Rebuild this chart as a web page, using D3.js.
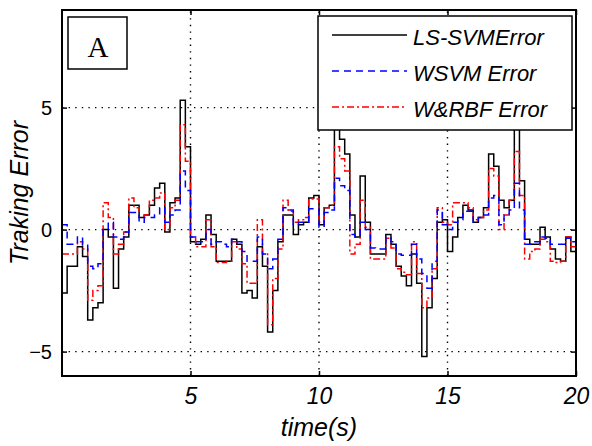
<!DOCTYPE html>
<html>
<head>
<meta charset="utf-8">
<script src="https://cdn.jsdelivr.net/npm/d3@7"></script>
<style>
  html, body { margin: 0; padding: 0; background: #fff; }
  #svg-container { width: 592px; height: 446px; }
  text { fill: #000; }
</style>
</head>
<body>
<div id="svg-container"></div>
<script>
////////////////////////////////////////////////////////////////////
////////////////////////////  Data  ////////////////////////////////
// sample times (s), one every 0.2 s
const time = d3.range(0, 101).map((i) => i / 5);

const lsSvmError = [
  -2.6, -1.5, -1.5, -0.7, -1.1, -3.7, -3.2, -3.0, 0.0, -0.3,
  -2.4, -0.8, -0.3, 1.0, 1.0, 0.5, 0.6, 1.0, 1.7, 1.9,
  -0.1, 1.1, 1.3, 5.3, 3.4, -0.5, -0.6, -0.4, 0.6, -0.2,
  -1.3, -1.3, -1.3, -0.4, -0.6, -2.6, -2.5, -2.8, -0.7, -1.5,
  -4.2, -2.5, -0.5, 0.6, 0.6, -0.2, 0.2, 0.3, 1.3, 1.4,
  0.2, 0.9, 1.0, 4.6, 3.7, 3.1, 0.6, -0.3, 2.2, 0.3,
  -1.0, -1.0, -1.0, -0.2, -0.6, -1.5, -1.9, -2.3, -1.0, -2.2,
  -5.2, -3.2, -2.0, 0.3, 0.4, -0.9, -0.3, 0.5, 1.0, 0.8,
  0.3, 0.5, 0.9, 3.1, 2.6, 1.2, 0.9, 1.2, 4.4, 2.0,
  -0.4, -0.6, -0.6, 0.1, -0.3, -0.8, -1.2, -1.3, -0.3, -0.9,
  -1.3,
];

const wsvmError = [
  0.2, -0.6, -0.6, -0.3, -0.6, -1.5, -1.6, -1.4, 0.0, 0.3,
  -0.3, -0.4, -0.1, 0.7, 0.7, 0.3, 0.5, 0.5, 0.6, 0.9,
  0.3, 0.6, 0.8, 2.4, 1.6, -0.3, -0.5, -0.5, 0.0, -0.6,
  -0.5, -0.6, -0.7, -0.4, -0.5, -0.9, -1.3, -1.3, -0.3, -1.0,
  -1.6, -1.2, -0.4, 0.9, 0.8, 0.2, 0.3, 0.3, 0.85, 0.85,
  0.1, 0.7, 0.8, 2.1, 1.8, 1.6, -0.2, -0.3, 0.3, 0.0,
  -0.75, -0.8, -0.8, -0.3, -0.5, -1.0, -1.05, -1.05, -0.6, -1.2,
  -1.8, -2.4, -1.3, 0.8, 0.2, 0.0, 0.3, 0.4, 0.75, 0.75,
  0.3, 0.5, 0.6, 1.3, 1.4, 0.2, 0.6, 0.8, 1.9, 0.8,
  -0.6, -0.6, -0.5, -0.3, -0.35, -0.6, -0.6, -0.6, -0.35, -0.5,
  -0.6,
];

const wRbfError = [
  -1.0, -1.0, -1.0, -0.5, -0.8, -2.9, -2.5, -2.3, 1.1, 0.5,
  -1.0, -0.6, -0.1, 1.3, 0.9, 0.55, 0.6, 1.2, 1.3, 1.5,
  0.0, 0.9, 1.2, 4.3, 2.8, -0.3, -0.7, -0.7, 0.4, -0.7,
  -1.35, -1.35, -1.3, -0.5, -0.8, -1.4, -2.2, -2.2, 0.4, -1.0,
  -3.9, -2.0, -0.8, 1.2, 0.75, 0.3, 0.4, 0.5, 1.25, 1.25,
  0.3, 0.9, 1.0, 3.4, 2.9, 2.4, -1.0, -0.6, 1.2, 0.1,
  -1.2, -1.2, -1.2, -0.35, -0.75, -1.6, -1.75, -1.85, -0.5, -1.8,
  -3.2, -2.8, -1.6, 0.9, 0.3, 0.2, 1.1, 1.1, 1.1, 0.9,
  0.4, 0.5, 0.8, 2.5, 2.2, 0.0, 0.6, 1.2, 3.2, 1.4,
  -1.2, -0.9, -0.8, -0.4, -0.5, -1.3, -1.35, -1.3, -0.3, -0.7,
  -0.9,
];

const xTicks = [5, 10, 15, 20];
const yTicks = [-5, 0, 5];

const seriesNames = ["LS-SVMError", "WSVM Error", "W&RBF Error"];
const seriesColors = ["#000000", "#0000ff", "#ff0000"];
const seriesDash = ["none", "7,5", "7,3,2,3"];

const sans = "'Liberation Sans', Arial, sans-serif";
const serif = "'Liberation Serif', 'Times New Roman', serif";

////////////////////////////////////////////////////////////////////
////////////////////////////  Init  ///////////////////////////////
const svg = d3
  .select("#svg-container")
  .append("svg")
  .attr("width", 592)
  .attr("height", 446);

const margin = { top: 10, right: 16, bottom: 70, left: 62 };
const width = 592;
const height = 446;

const xScale = d3
  .scaleLinear()
  .domain([0, 20])
  .range([margin.left, width - margin.right]);

const yScale = d3
  .scaleLinear()
  .domain([-6, 9])
  .range([height - margin.bottom, margin.top]);

const x0 = margin.left;
const x1 = width - margin.right;
const y0 = height - margin.bottom;
const y1 = margin.top;

svg
  .append("clipPath")
  .attr("id", "plot-clip")
  .append("rect")
  .attr("x", x0)
  .attr("y", y1)
  .attr("width", x1 - x0)
  .attr("height", y0 - y1);

////////////////////////////////////////////////////////////////////
////////////////////////////  Grid  ////////////////////////////////
const grid = svg.append("g").attr("stroke", "#000").attr("stroke-width", 1.4)
  .attr("stroke-dasharray", "1.4,5.2");

grid
  .selectAll(".vgrid")
  .data(xTicks.filter((d) => d < 20))
  .enter()
  .append("line")
  .attr("x1", (d) => xScale(d))
  .attr("x2", (d) => xScale(d))
  .attr("y1", y0)
  .attr("y2", y1);

grid
  .selectAll(".hgrid")
  .data(yTicks)
  .enter()
  .append("line")
  .attr("x1", x0)
  .attr("x2", x1)
  .attr("y1", (d) => yScale(d))
  .attr("y2", (d) => yScale(d));

////////////////////////////////////////////////////////////////////
////////////////////////////  Lines  ///////////////////////////////
const series = [lsSvmError, wsvmError, wRbfError];

// sample-and-hold look, like the stairs in the original plot
const lineGenerator = d3
  .line()
  .x((d, i) => xScale(time[i]))
  .y((d) => yScale(d))
  .curve(d3.curveStepAfter);

const lines = svg.append("g").attr("clip-path", "url(#plot-clip)");

[0, 2, 1].forEach((k) => {
  lines
    .append("path")
    .datum(series[k])
    .attr("d", lineGenerator)
    .attr("fill", "none")
    .attr("stroke", seriesColors[k])
    .attr("stroke-width", 1.5)
    .attr("stroke-dasharray", seriesDash[k]);
});

////////////////////////////////////////////////////////////////////
////////////////////////////  Axes  ////////////////////////////////
const tick = 5;

const xAxis = d3.axisBottom(xScale).tickValues(xTicks).tickSizeInner(-tick)
  .tickSizeOuter(0).tickPadding(12);
const yAxis = d3.axisLeft(yScale).tickValues(yTicks).tickSizeInner(-tick)
  .tickSizeOuter(0).tickPadding(10);

const gx = svg.append("g").attr("transform", `translate(0,${y0})`).call(xAxis);
gx.selectAll("text").style("font-size", "23px").style("font-style", "italic")
  .style("font-family", sans).style("fill", "#000");

const gy = svg.append("g").attr("transform", `translate(${x0},0)`).call(yAxis);
gy.selectAll("text").style("font-size", "20px").style("font-family", sans)
  .style("fill", "#000").attr("dy", "0.36em");

// mirrored ticks on top and right
svg.append("g").attr("transform", `translate(0,${y1})`)
  .call(d3.axisTop(xScale).tickValues(xTicks).tickSizeInner(-tick).tickSizeOuter(0).tickFormat(""));
svg.append("g").attr("transform", `translate(${x1},0)`)
  .call(d3.axisRight(yScale).tickValues(yTicks).tickSizeInner(-tick).tickSizeOuter(0).tickFormat(""));

svg.selectAll(".domain").remove();
svg.selectAll(".tick line").attr("stroke", "#000").attr("stroke-width", 1.5);

// frame
svg
  .append("rect")
  .attr("x", x0)
  .attr("y", y1)
  .attr("width", x1 - x0)
  .attr("height", y0 - y1)
  .attr("fill", "none")
  .attr("stroke", "#000")
  .attr("stroke-width", 2);

// axis titles
svg
  .append("text")
  .attr("x", (x0 + x1) / 2)
  .attr("y", 436)
  .attr("text-anchor", "middle")
  .style("font-family", sans)
  .style("font-size", "25px")
  .style("font-style", "italic")
  .text("time(s)");

svg
  .append("text")
  .attr("transform", `translate(28,${(y0 + y1) / 2}) rotate(-90)`)
  .attr("text-anchor", "middle")
  .style("font-family", sans)
  .style("font-size", "25px")
  .style("font-style", "italic")
  .text("Traking Error");

////////////////////////////////////////////////////////////////////
////////////////////////////  Legend  //////////////////////////////
const legend = svg.append("g");

legend
  .append("rect")
  .attr("x", 318)
  .attr("y", 16)
  .attr("width", 254)
  .attr("height", 114)
  .attr("fill", "#fff")
  .attr("stroke", "#000")
  .attr("stroke-width", 1.5);

const rowY = d3.scalePoint().domain(seriesNames).range([35, 107]);

seriesNames.forEach((name, k) => {
  legend
    .append("line")
    .attr("x1", 332)
    .attr("x2", 407)
    .attr("y1", rowY(name))
    .attr("y2", rowY(name))
    .attr("stroke", seriesColors[k])
    .attr("stroke-width", 1.5)
    .attr("stroke-dasharray", seriesDash[k]);
  legend
    .append("text")
    .attr("x", 413)
    .attr("y", rowY(name) + 10)
    .style("font-family", sans)
    .style("font-size", "22px")
    .style("font-style", "italic")
    .text(name);
});

// panel label
svg
  .append("rect")
  .attr("x", 68)
  .attr("y", 17)
  .attr("width", 59)
  .attr("height", 52)
  .attr("fill", "#fff")
  .attr("stroke", "#000")
  .attr("stroke-width", 1.5);

svg
  .append("text")
  .attr("x", 98)
  .attr("y", 57)
  .attr("text-anchor", "middle")
  .style("font-family", serif)
  .style("font-size", "29px")
  .text("A");
</script>
</body>
</html>
